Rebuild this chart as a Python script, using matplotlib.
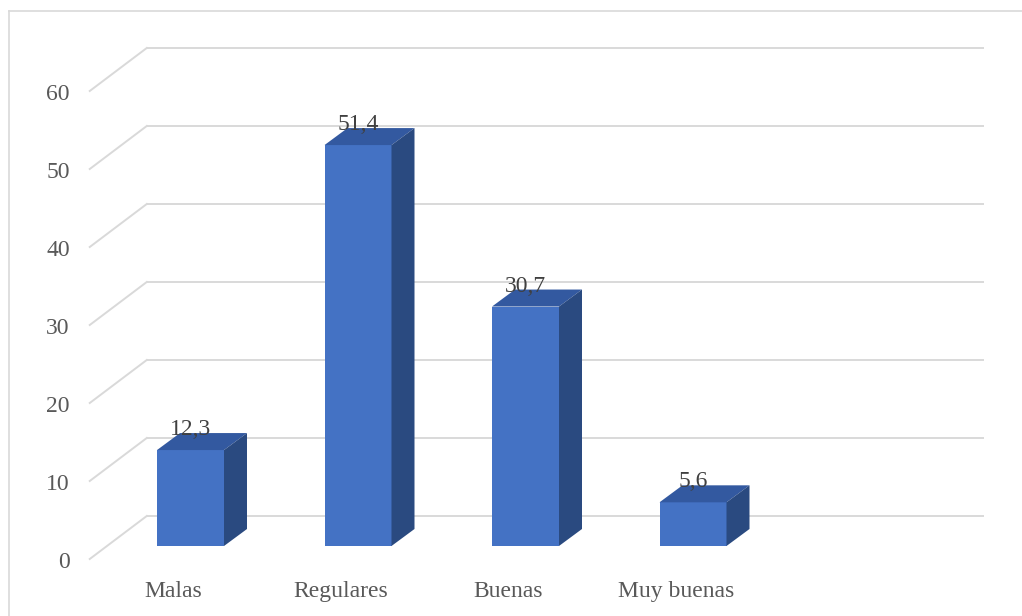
import matplotlib
matplotlib.use("Agg")
import matplotlib.pyplot as plt
from matplotlib.lines import Line2D

# Data
categories = ["Malas", "Regulares", "Buenas", "Muy buenas"]
values = [12.3, 51.4, 30.7, 5.6]
value_labels = ["12,3", "51,4", "30,7", "5,6"]
y_ticks = [0, 10, 20, 30, 40, 50, 60]
n_slots = 5  # category slots on the floor (last one empty)

# Geometry (figure pixels)
W, H = 1022, 616
X0_PX, X_STEP_PX = 190.5, 167.5     # pixel x of first category, spacing
Y0_PX, Y_STEP_PX = 70.0, 7.8        # pixel y (from bottom) of value 0, px per unit

BAR_W = 0.4
DEPTH_X, DEPTH_Y = 23 / X_STEP_PX, 17 / Y_STEP_PX       # bar depth
WALL_X, WALL_Y = 40 / X_STEP_PX, 30 / Y_STEP_PX         # bar plane -> back wall
FRONT_X, FRONT_Y = -17 / X_STEP_PX, -13 / Y_STEP_PX     # bar plane -> floor front edge

FRONT_C = "#4472C4"
TOP_C = "#3359A0"
SIDE_C = "#2A4A80"
GRID_C = "#D9D9D9"
TEXT_C = "#595959"
LABEL_C = "#404040"

plt.rcParams["font.family"] = ["Liberation Serif", "DejaVu Serif"]

fig = plt.figure(figsize=(W / 100, H / 100), dpi=100)
ax = fig.add_axes([0, 0, 1, 1])
ax.set_xlim(-X0_PX / X_STEP_PX, (W - X0_PX) / X_STEP_PX)
ax.set_ylim(-Y0_PX / Y_STEP_PX, (H - Y0_PX) / Y_STEP_PX)
ax.axis("off")

left = -0.5
right = n_slots - 0.5

# Back wall gridlines and left-wall diagonals
for v in y_ticks:
    ax.plot([left + WALL_X, right + WALL_X], [v + WALL_Y, v + WALL_Y],
            color=GRID_C, lw=1.4, zorder=1, solid_capstyle="butt")
    ax.plot([left + FRONT_X, left + WALL_X], [v + FRONT_Y, v + WALL_Y],
            color=GRID_C, lw=1.4, zorder=1)
    ax.annotate(str(v), xy=(left + FRONT_X, v + FRONT_Y),
                xytext=(-20, -9), textcoords="offset pixels",
                ha="right", va="baseline", fontsize=17, color=TEXT_C)

# 3D-looking bars
for i, v in enumerate(values):
    x0, x1 = i - BAR_W / 2, i + BAR_W / 2
    ax.bar(i, v, width=BAR_W, bottom=0, color=FRONT_C, zorder=3,
           linewidth=0)
    # top face
    ax.fill([x0, x1, x1 + DEPTH_X, x0 + DEPTH_X],
            [v, v, v + DEPTH_Y, v + DEPTH_Y],
            color=TOP_C, zorder=3, linewidth=0)
    # side face
    ax.fill([x1, x1 + DEPTH_X, x1 + DEPTH_X, x1],
            [0, DEPTH_Y, v + DEPTH_Y, v],
            color=SIDE_C, zorder=3, linewidth=0)
    ax.annotate(value_labels[i], xy=(i, v), xytext=(0, 15),
                textcoords="offset pixels", ha="center", va="baseline",
                fontsize=17, color=LABEL_C, zorder=5)

# Category labels along the floor front edge
for i, c in enumerate(categories):
    ax.annotate(c, xy=(i + FRONT_X, FRONT_Y), xytext=(0, -38),
                textcoords="offset pixels", ha="center", va="baseline",
                fontsize=17, color=TEXT_C)

# Chart frame
fig.add_artist(Line2D([9 / W, 9 / W], [0, 1 - 11 / H], transform=fig.transFigure,
                      color=GRID_C, lw=1.2))
fig.add_artist(Line2D([9 / W, 1], [1 - 11 / H, 1 - 11 / H], transform=fig.transFigure,
                      color=GRID_C, lw=1.2))

fig.savefig("out.png", dpi=100, facecolor="white")
